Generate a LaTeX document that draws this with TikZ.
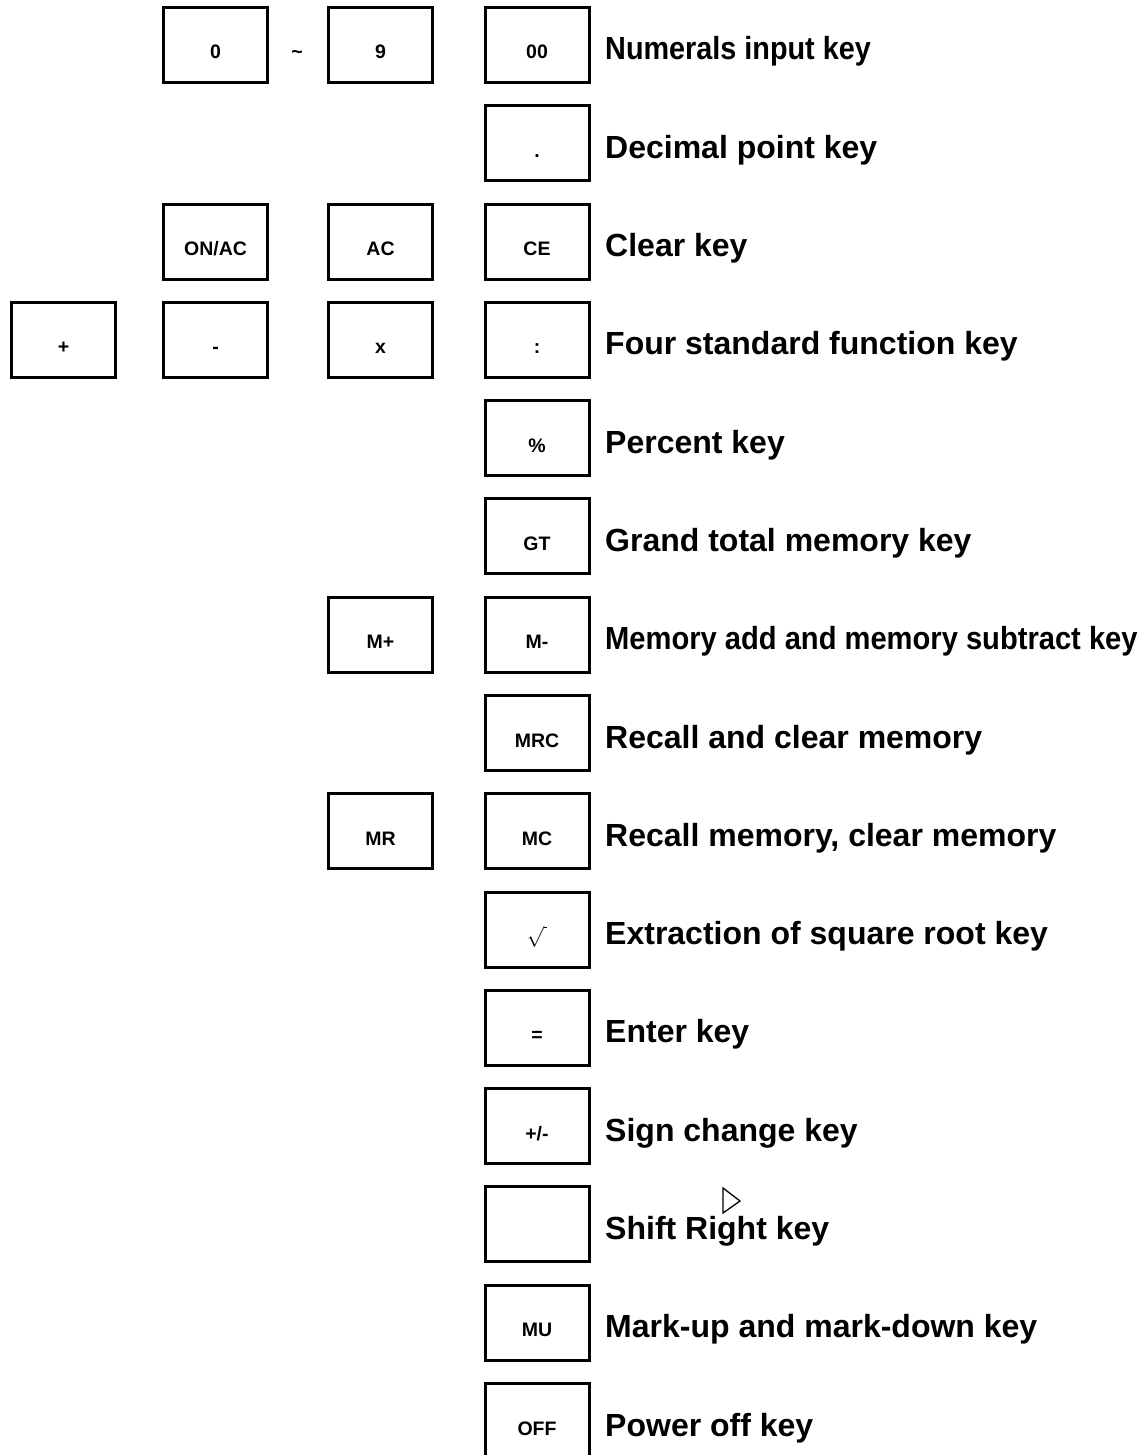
\documentclass[tikz,border=0pt]{standalone}
\usepackage{fontspec}
\usepackage{graphicx}
\setmainfont{Liberation Sans}
\newcommand\keyat[4]{%
  \node[keybox] (#1) at ({#2},{6+98.29*#3+39}) {};
  \node[keytext] (#1t) at ([yshift=-14pt]#1.center) {#4};}
\newcommand\labat[3]{%
  \node[labeltext] (#1) at (605,{6+98.29*#2+54}) {#3};}
\begin{document}
\begin{tikzpicture}[x=1pt,y=-1pt,
  keybox/.style={draw=black, line width=3pt, minimum width=104pt, minimum height=75pt, inner sep=0pt},
  keytext/.style={anchor=base, inner sep=0pt, font=\fontsize{19.5}{22}\selectfont\bfseries},
  labeltext/.style={anchor=base west, inner sep=0pt, font=\fontsize{32}{38}\selectfont\bfseries}]
\useasboundingbox (0,0) rectangle (1146,1455);
% column D
\keyat{kzz}{537}{0}{00}
\keyat{kdot}{537}{1}{.}
\keyat{kce}{537}{2}{CE}
\keyat{kdiv}{537}{3}{:}
\keyat{kpct}{537}{4}{\%}
\keyat{kgt}{537}{5}{GT}
\keyat{kmm}{537}{6}{M-}
\keyat{kmrc}{537}{7}{MRC}
\keyat{kmc}{537}{8}{MC}
\node[keybox] (ksq) at (537,{6+98.29*9+39}) {};
\node[anchor=base, inner sep=0pt, font=\fontsize{20}{24}\selectfont] (ksqt) at ([yshift=-8pt]ksq.center) {$\sqrt{\kern3pt}$};
\keyat{keq}{537}{10}{=}
\keyat{kpm}{537}{11}{+/-}
\keyat{ksr}{537}{12}{}
\keyat{kmu}{537}{13}{MU}
\keyat{koff}{537}{14}{OFF}
% column C
\keyat{knine}{380.5}{0}{9}
\keyat{kac}{380.5}{2}{AC}
\keyat{kmul}{380.5}{3}{x}
\keyat{kmp}{380.5}{6}{M+}
\keyat{kmr}{380.5}{8}{MR}
% column B
\keyat{kzero}{215.5}{0}{0}
\keyat{kon}{215.5}{2}{ON/AC}
\keyat{kmin}{215.5}{3}{-}
% column A
\keyat{kplus}{63.5}{3}{+}
% tilde
\node[keytext] (tilde) at (297,{6+53}) {\char`\~};
% labels
\labat{l0}{0}{\scalebox{0.9}[1]{Numerals input key}}
\labat{l1}{1}{Decimal point key}
\labat{l2}{2}{Clear key}
\labat{l3}{3}{Four standard function key}
\labat{l4}{4}{Percent key}
\labat{l5}{5}{Grand total memory key}
\labat{l6}{6}{\scalebox{0.91}[1]{Memory add and memory subtract key}}
\labat{l7}{7}{Recall and clear memory}
\labat{l8}{8}{Recall memory, clear memory}
\labat{l9}{9}{Extraction of square root key}
\labat{l10}{10}{Enter key}
\labat{l11}{11}{Sign change key}
\labat{l12}{12}{Shift Right key}
\labat{l13}{13}{Mark-up and mark-down key}
\labat{l14}{14}{Power off key}
% shift-right triangle
\draw[line width=1.3pt, line join=miter] (723,1188) -- (740,1201) -- (723,1213) -- cycle;
\end{tikzpicture}
\end{document}
